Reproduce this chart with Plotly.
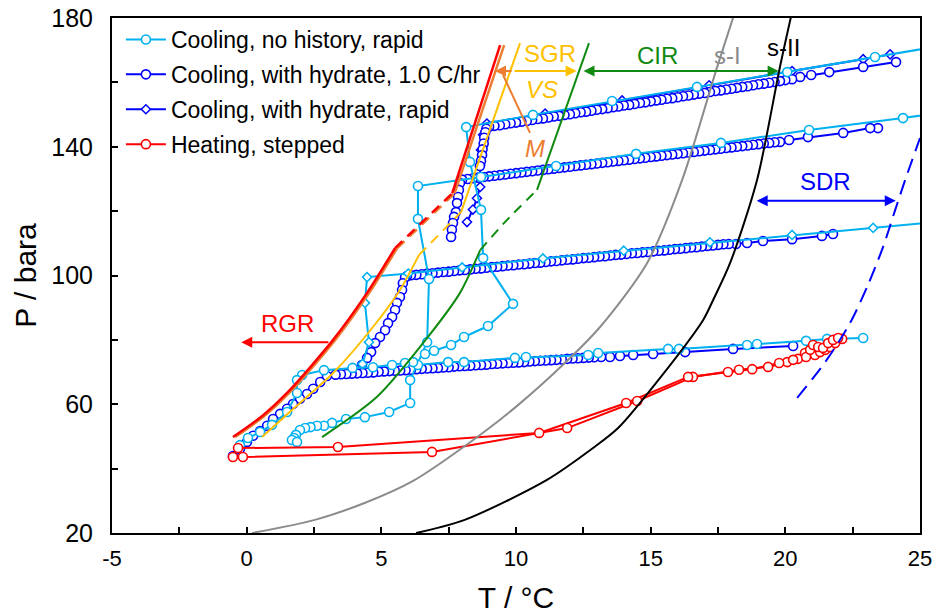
import plotly.graph_objects as go

# ---------------- boundary / region curves (T in degC, P in bara) ----------------
sI_T = [0.20, 2.50, 4.40, 6.18, 8.18, 10.04, 11.90, 13.12, 14.87, 16.17, 17.47, 18.13]
sI_P = [20.0, 24.0, 29.4, 36.2, 47.5, 59.5, 73.5, 84.0, 103.9, 129.7, 164.8, 181.9]

sII_T = [6.29, 8.07, 11.15, 12.86, 13.79, 15.35, 16.95, 17.32, 17.95, 18.95, 19.80, 20.25]
sII_P = [20.0, 24.0, 36.5, 46.4, 52.6, 68.2, 86.2, 92.4, 103.9, 129.7, 164.8, 181.9]

sdr_T = [20.44, 21.48, 22.40, 23.07, 23.63, 24.08, 24.45, 25.00]
sdr_P = [62.0, 73.1, 85.2, 97.1, 108.9, 120.4, 129.7, 142.7]

cir_low_T = [2.80, 4.84, 6.73, 7.92, 8.67]
cir_low_P = [49.8, 62.3, 80.9, 94.6, 107.9]
cir_mid_T = [8.67, 9.59, 10.78]
cir_mid_P = [107.9, 116.6, 126.6]
cir_up_T = [10.78, 12.71]
cir_up_P = [126.6, 172.2]

vs_low_T = [0.57, 1.68, 3.21, 4.69, 5.69, 6.40]
vs_low_P = [49.8, 58.2, 69.7, 84.0, 95.5, 106.4]
vs_mid_T = [6.40, 7.96]
vs_mid_P = [106.4, 119.7]
vs_up_T = [7.96, 10.15]
vs_up_P = [119.7, 172.2]

rgr_low_T = [-0.51, 0.60, 1.50, 3.21, 4.47, 5.51]
rgr_low_P = [49.8, 56.5, 63.5, 80.0, 94.6, 108.5]
rgr_mid_T = [5.51, 7.63]
rgr_mid_P = [108.5, 125.5]
rgr_up_T = [7.63, 9.41]
rgr_up_P = [125.5, 171.6]

m_low_T = [-0.43, 0.68, 1.58, 3.29, 4.55, 5.59]
m_low_P = [49.8, 56.5, 63.5, 80.0, 94.6, 108.5]
m_mid_T = [5.59, 7.72]
m_mid_P = [108.5, 125.5]
m_up_T = [7.72, 9.56]
m_up_P = [125.5, 171.6]

# ---------------- Cooling, with hydrate, 1.0 C/hr (four isochores) ----------------
iso1_T = [24.11, 22.89, 21.63, 20.96, 20.55, 20.25,
          20.0, 19.8, 19.6, 19.4, 19.2, 19.0, 18.8, 18.6, 18.4, 18.2, 18.0, 17.8, 17.6, 17.4,
          17.2, 17.0, 16.8, 16.6, 16.4, 16.2, 16.0, 15.8, 15.6, 15.4, 15.2, 15.0, 14.8, 14.6,
          14.4, 14.2, 14.0, 13.8, 13.6, 13.4, 13.2, 13.0, 12.8, 12.6, 12.4, 12.2, 12.0, 11.8,
          11.6, 11.4, 11.2, 11.0, 10.8, 10.6, 10.4, 10.2, 10.0, 9.8, 9.6, 9.4, 9.2, 9.0,
          8.90, 8.86, 8.82, 8.80, 8.76, 8.74, 8.70, 8.66]
iso1_P = [166.3, 164.8, 163.2, 162.3, 161.7, 161.0,
          160.7, 160.4, 160.1, 159.9, 159.6, 159.4, 159.1, 158.8, 158.6, 158.3, 158.0, 157.8, 157.5, 157.3,
          157.0, 156.7, 156.5, 156.2, 155.9, 155.7, 155.4, 155.1, 154.9, 154.6, 154.4, 154.1, 153.8, 153.6,
          153.3, 153.0, 152.8, 152.5, 152.3, 152.0, 151.7, 151.5, 151.2, 150.9, 150.7, 150.4, 150.1, 149.9,
          149.6, 149.4, 149.1, 148.8, 148.6, 148.3, 148.0, 147.8, 147.5, 147.3, 147.0, 146.7, 146.5, 146.2,
          145.6, 144.5, 142.8, 141.0, 139.2, 137.4, 135.6, 134.0]

iso2_T = [23.44, 23.15, 22.15, 20.84, 20.14, 19.80,
          19.6, 19.4, 19.2, 19.0, 18.8, 18.6, 18.4, 18.2, 18.0, 17.8, 17.6, 17.4, 17.2, 17.0,
          16.8, 16.6, 16.4, 16.2, 16.0, 15.8, 15.6, 15.4, 15.2, 15.0, 14.8, 14.6, 14.4, 14.2,
          14.0, 13.8, 13.6, 13.4, 13.2, 13.0, 12.8, 12.6, 12.4, 12.2, 12.0, 11.8, 11.6, 11.4,
          11.2, 11.0, 10.8, 10.6, 10.4, 10.2, 10.0, 9.8, 9.6, 9.4, 9.2, 9.0, 8.8, 8.6, 8.4, 8.2, 8.0,
          7.92, 7.88, 7.85, 7.81, 7.77, 7.70, 7.66, 7.62, 7.59]
iso2_P = [145.8, 145.8, 144.3, 143.0, 142.1, 141.5,
          141.4, 141.2, 141.0, 140.8, 140.6, 140.4, 140.2, 140.0, 139.8, 139.6, 139.4, 139.2, 139.0, 138.8,
          138.6, 138.4, 138.2, 138.0, 137.8, 137.6, 137.4, 137.2, 137.0, 136.8, 136.6, 136.4, 136.2, 136.0,
          135.8, 135.6, 135.4, 135.2, 135.0, 134.8, 134.6, 134.4, 134.2, 134.0, 133.8, 133.6, 133.4, 133.2,
          133.0, 132.8, 132.6, 132.4, 132.2, 132.0, 131.8, 131.6, 131.4, 131.2, 131.0, 130.8, 130.6, 130.4, 130.2, 130.0, 129.8,
          128.7, 126.6, 124.4, 122.5, 119.7, 118.2, 116.3, 114.2, 112.0]

iso3_T = [21.77, 21.36, 20.25, 19.17, 18.58, 18.17,
          17.9, 17.7, 17.5, 17.3, 17.1, 16.9, 16.7, 16.5, 16.3, 16.1, 15.9, 15.7, 15.5, 15.3,
          15.1, 14.9, 14.7, 14.5, 14.3, 14.1, 13.9, 13.7, 13.5, 13.3, 13.1, 12.9, 12.7, 12.5,
          12.3, 12.1, 11.9, 11.7, 11.5, 11.3, 11.1, 10.9, 10.7, 10.5, 10.3, 10.1, 9.9, 9.7,
          9.5, 9.3, 9.1, 8.9, 8.7, 8.5, 8.3, 8.1, 7.9, 7.7, 7.5, 7.3, 7.1, 6.9, 6.7, 6.5, 6.3, 6.1,
          5.95, 5.88, 5.80, 5.77, 5.69, 5.58, 5.51, 5.40, 5.25, 5.14, 4.95, 4.77, 4.62, 4.47, 4.28, 4.10]
iso3_P = [112.9, 112.3, 111.3, 110.7, 110.1, 109.8,
          109.8, 109.7, 109.5, 109.3, 109.2, 109.0, 108.8, 108.7, 108.5, 108.3, 108.2, 108.0, 107.8, 107.7,
          107.5, 107.3, 107.2, 107.0, 106.9, 106.7, 106.5, 106.4, 106.2, 106.0, 105.9, 105.7, 105.5, 105.4,
          105.2, 105.0, 104.9, 104.7, 104.5, 104.4, 104.2, 104.0, 103.9, 103.7, 103.5, 103.4, 103.2, 103.1,
          102.9, 102.7, 102.6, 102.4, 102.2, 102.1, 101.9, 101.7, 101.6, 101.4, 101.2, 101.1, 100.9, 100.7, 100.6, 100.4, 100.2, 100.1,
          99.8, 99.4, 97.6, 95.5, 93.3, 91.5, 89.3, 87.1, 85.2, 83.0, 80.9, 79.0, 76.2, 74.4, 72.2, 70.6]

iso4_T = [20.29, 18.06, 16.28, 15.09, 14.35, 13.86, 13.49, 13.16,
          12.9, 12.7, 12.5, 12.3, 12.1, 11.9, 11.7, 11.5, 11.3, 11.1, 10.9, 10.7, 10.5, 10.3,
          10.1, 9.9, 9.7, 9.5, 9.3, 9.1, 8.9, 8.7, 8.5, 8.3, 8.1, 7.9, 7.7, 7.5, 7.3, 7.1,
          6.9, 6.7, 6.5, 6.3, 6.1, 5.9, 5.7, 5.5, 5.3, 5.1, 4.9, 4.7, 4.5, 4.3, 4.1, 3.9, 3.7, 3.5, 3.3,
          2.98, 2.73, 2.47, 2.24, 1.98, 1.72, 1.50, 1.24, 0.98, 0.76, 0.50, 0.24, 0.01, -0.25, -0.51]
iso4_P = [78.1, 77.2, 76.2, 75.6, 75.3, 75.0, 74.7, 74.7,
          74.6, 74.5, 74.4, 74.3, 74.2, 74.1, 73.9, 73.8, 73.7, 73.6, 73.5, 73.4, 73.3, 73.1,
          73.0, 72.9, 72.8, 72.7, 72.6, 72.5, 72.3, 72.2, 72.1, 72.0, 71.9, 71.8, 71.7, 71.5, 71.4, 71.3,
          71.2, 71.1, 71.0, 70.9, 70.7, 70.6, 70.5, 70.4, 70.3, 70.2, 70.1, 69.9, 69.8, 69.7, 69.6, 69.5, 69.4, 69.3, 69.2,
          68.8, 66.9, 64.8, 63.2, 61.7, 60.1, 58.6, 57.0, 55.4, 53.3, 51.7, 50.2, 48.3, 46.1, 43.9]

# ---------------- Cooling, with hydrate, rapid ----------------
rapid_T = [23.89, 22.89, 20.25, 17.17, 13.94, 11.08, 8.92, 8.78, 8.70, 8.67, 8.67, 8.55, 8.40, 8.18]
rapid_P = [168.7, 167.2, 163.5, 159.1, 154.4, 150.3, 147.2, 143.7, 139.0, 134.3, 127.5, 124.0, 120.5, 116.6]

# ---------------- Cooling, no history, rapid ----------------
nh1_T = [25.6, 23.33, 20.07, 16.72, 13.57, 10.63, 8.15, 8.29, 8.70, 8.78, 9.89, 8.96, 8.07, 7.59, 6.96, 6.62]
nh1_P = [171.1, 167.9, 163.2, 158.6, 154.2, 149.9, 146.1, 135.3, 120.4, 105.4, 91.2, 84.3, 80.9, 78.4, 76.6, 75.6]

nh2_T = [25.6, 24.37, 20.88, 17.61, 14.46, 11.49, 8.70, 6.36, 6.36, 6.77, 6.70, 6.07, 6.07, 5.29, 4.39,
         3.69, 3.17, 2.87, 2.61, 2.37, 2.17, 1.98, 1.83, 1.76, 1.68, 1.87]
nh2_P = [150.4, 148.9, 145.2, 141.2, 137.8, 134.0, 130.6, 127.8, 117.6, 98.9, 79.3, 67.5, 60.4, 57.6, 56.0,
         55.4, 54.2, 53.3, 53.3, 52.9, 52.6, 52.0, 50.5, 49.5, 48.9, 48.3]

nh3_T = [25.6, 23.26, 20.25, 17.20, 14.00, 11.00, 8.00, 6.00, 4.47, 4.39, 4.54, 4.30]
nh3_P = [116.6, 114.8, 112.6, 110.3, 107.7, 105.3, 102.5, 100.6, 99.5, 91.5, 79.3, 72.5]

nh4_T = [22.89, 21.55, 20.77, 18.95, 18.58, 16.05, 15.65, 13.05, 12.68, 10.37, 9.96, 8.07, 7.48, 6.36,
         6.18, 5.88, 5.40, 4.69, 3.93, 2.87, 2.06, 1.87, 1.87, 1.50, 0.94, 0.50, 0.05, -0.25]
nh4_P = [80.6, 80.3, 79.7, 78.7, 78.4, 77.2, 77.2, 75.9, 75.3, 74.7, 74.4, 73.1, 73.1, 72.2,
         73.1, 72.8, 72.2, 71.5, 71.3, 70.6, 69.1, 67.5, 63.5, 57.6, 53.6, 51.4, 49.5, 47.3]

# ---------------- Heating, stepped ----------------
heat1_T = [-0.51, -0.14, 6.88, 11.90, 14.50, 16.57, 18.28, 19.36, 20.07, 20.47, 20.73, 21.10, 21.29,
           21.48, 21.66, 21.85, 22.11]
heat1_P = [43.6, 43.6, 45.2, 52.6, 61.0, 68.5, 70.7, 71.6, 73.1, 74.1, 75.9, 75.3, 76.2,
           76.9, 77.8, 79.0, 80.3]
heat2_T = [-0.32, 3.39, 10.86, 14.09, 16.39, 17.87, 18.77, 19.77, 20.29, 20.77, 20.92, 21.03, 21.22,
           21.40, 21.59, 21.77, 21.96]
heat2_P = [46.4, 46.7, 51.1, 60.4, 68.5, 70.0, 70.9, 72.8, 73.8, 74.7, 76.9, 78.4, 77.8,
           77.5, 79.0, 80.0, 80.6]

x_ticks = [-5, 0, 5, 10, 15, 20, 25]
x_tick_text = ["-5", "0", "5", "10", "15", "20", "25"]

# ---------------- styling ----------------
FONT = "Liberation Sans, Arial, sans-serif"
LIGHT = "#00B0F0"
DARK = "#0000FF"
RED = "#FF0000"
ORANGE = "#ED7D31"
GOLD = "#FFC000"
GREEN = "#108A10"
GRAY = "#8C8C8C"


def join(*segs):
    xs, ys = [], []
    for i, (sx, sy) in enumerate(segs):
        if i:
            xs.append(None)
            ys.append(None)
        xs += sx
        ys += sy
    return xs, ys


fig = go.Figure()

# diamonds: cooling with hydrate, rapid
fig.add_trace(go.Scatter(
    x=rapid_T, y=rapid_P, mode="lines+markers", name="Cooling, with hydrate, rapid",
    line=dict(color=DARK, width=2), legendgroup="g3",
    marker=dict(symbol="diamond", size=7, color="white", line=dict(color=DARK, width=1.5)),
    legendrank=3))

# dense isochores at 1.0 C/hr
dx, dy = join((iso1_T, iso1_P), (iso2_T, iso2_P), (iso3_T, iso3_P), (iso4_T, iso4_P))
fig.add_trace(go.Scatter(
    x=dx, y=dy, mode="lines+markers", name="Cooling, with hydrate, 1.0 C/hr",
    line=dict(color=DARK, width=2), legendgroup="g2",
    marker=dict(symbol="circle", size=9, color="white", line=dict(color=DARK, width=1.6)),
    legendrank=2))

# light blue diamonds (third isochore, rapid)
fig.add_trace(go.Scatter(
    x=nh3_T, y=nh3_P, mode="lines+markers", showlegend=False,
    line=dict(color=LIGHT, width=2),
    marker=dict(symbol="diamond", size=7, color="white", line=dict(color=LIGHT, width=1.5))))

# cooling, no history
lx, ly = join((nh1_T, nh1_P), (nh2_T, nh2_P), (nh4_T, nh4_P))
fig.add_trace(go.Scatter(
    x=lx, y=ly, mode="lines+markers", name="Cooling, no history, rapid",
    line=dict(color=LIGHT, width=2), legendgroup="g1",
    marker=dict(symbol="circle", size=9, color="white", line=dict(color=LIGHT, width=1.6)),
    legendrank=1))

# heating
hx, hy = join((heat1_T, heat1_P), (heat2_T, heat2_P))
fig.add_trace(go.Scatter(
    x=hx, y=hy, mode="lines+markers", name="Heating, stepped",
    line=dict(color=RED, width=2), legendgroup="g4",
    marker=dict(symbol="circle", size=9, color="white", line=dict(color=RED, width=1.6)),
    legendrank=4))


def curve(xs, ys, color, dash="solid", width=2):
    fig.add_trace(go.Scatter(x=xs, y=ys, mode="lines", showlegend=False, hoverinfo="skip",
                             line=dict(color=color, width=width, dash=dash, shape="spline",
                                       smoothing=0.8)))


curve(sI_T, sI_P, GRAY)
curve(sII_T, sII_P, "black")
curve(sdr_T, sdr_P, DARK, dash="15px,8px")
curve(cir_low_T, cir_low_P, GREEN)
curve(cir_mid_T, cir_mid_P, GREEN, dash="10px,7px")
curve(cir_up_T, cir_up_P, GREEN)
curve(vs_low_T, vs_low_P, GOLD)
curve(vs_mid_T, vs_mid_P, GOLD, dash="10px,7px")
curve(vs_up_T, vs_up_P, GOLD)
curve(m_low_T, m_low_P, ORANGE, width=2.5)
curve(m_mid_T, m_mid_P, ORANGE, dash="10px,7px", width=2.5)
curve(m_up_T, m_up_P, ORANGE, width=2.5)
curve(rgr_low_T, rgr_low_P, RED, width=2.5)
curve(rgr_mid_T, rgr_mid_P, RED, dash="10px,7px", width=2.5)
curve(rgr_up_T, rgr_up_P, RED, width=2.5)


def arrow(x0, x1, y, color, both=False):
    fig.add_annotation(x=x1, y=y, ax=x0, ay=y, xref="x", yref="y", axref="x", ayref="y",
                       text="", showarrow=True, arrowhead=2, arrowsize=1.1, arrowwidth=2,
                       arrowcolor=color, arrowside="end+start" if both else "end",
                       standoff=0, startstandoff=0)


arrow(9.89, 12.25, 163.5, GOLD)
arrow(9.89, 9.22, 163.5, ORANGE)
arrow(12.45, 19.75, 163.5, GREEN, both=True)
arrow(18.88, 24.10, 123.2, DARK, both=True)
arrow(3.09, -0.20, 79.3, RED)

fig.add_shape(type="line", x0=9.52, y0=162.3, x1=10.52, y1=144.3, xref="x", yref="y",
              line=dict(color=ORANGE, width=2))


def label(txt, x, y, color):
    fig.add_annotation(x=x, y=y, xref="x", yref="y", text=txt, showarrow=False,
                       font=dict(family=FONT, size=24, color=color))


label("SGR", 11.26, 169.1, GOLD)
label("<i>VS</i>", 10.97, 157.9, GOLD)
label("<i>M</i>", 10.71, 139.6, ORANGE)
label("CIR", 15.27, 168.5, GREEN)
label("s-I", 17.84, 168.5, GRAY)
label("s-II", 19.92, 170.7, "black")
label("SDR", 21.48, 129.1, DARK)
label("RGR", 1.50, 85.2, RED)

axis_common = dict(showline=True, linecolor="black", linewidth=2, mirror=True,
                   showgrid=False, zeroline=False, ticks="inside", ticklen=6,
                   tickwidth=1.5, tickcolor="black", automargin=False)

fig.update_xaxes(range=[-5, 25], tickmode="array", tickvals=x_ticks, ticktext=x_tick_text,
                 minor=dict(dtick=2.5, tick0=-5, ticks="inside", ticklen=6, tickwidth=1.5,
                            tickcolor="black"),
                 tickfont=dict(family=FONT, size=22, color="black"), ticklabelstandoff=5,
                 title=dict(text="T / °C", font=dict(family=FONT, size=30, color="black"), standoff=17),
                 **axis_common)
fig.update_yaxes(range=[20, 180], tick0=20, dtick=40,
                 minor=dict(dtick=20, ticks="inside", ticklen=6, tickwidth=1.5, tickcolor="black"),
                 tickfont=dict(family=FONT, size=25, color="black"), ticklabelstandoff=12,
                 title=dict(text="P / bara", font=dict(family=FONT, size=30, color="black"), standoff=6),
                 **axis_common)

fig.update_layout(
    width=936, height=616,
    margin=dict(l=112, r=16, t=18, b=83),
    paper_bgcolor="white", plot_bgcolor="white",
    font=dict(family=FONT, color="black"),
    legend=dict(x=0.011, y=1.0, xanchor="left", yanchor="top", bgcolor="rgba(0,0,0,0)",
                font=dict(family=FONT, size=23, color="black"), traceorder="grouped",
                tracegroupgap=2, itemwidth=40),
    showlegend=True,
)

fig.write_html("out.html")
